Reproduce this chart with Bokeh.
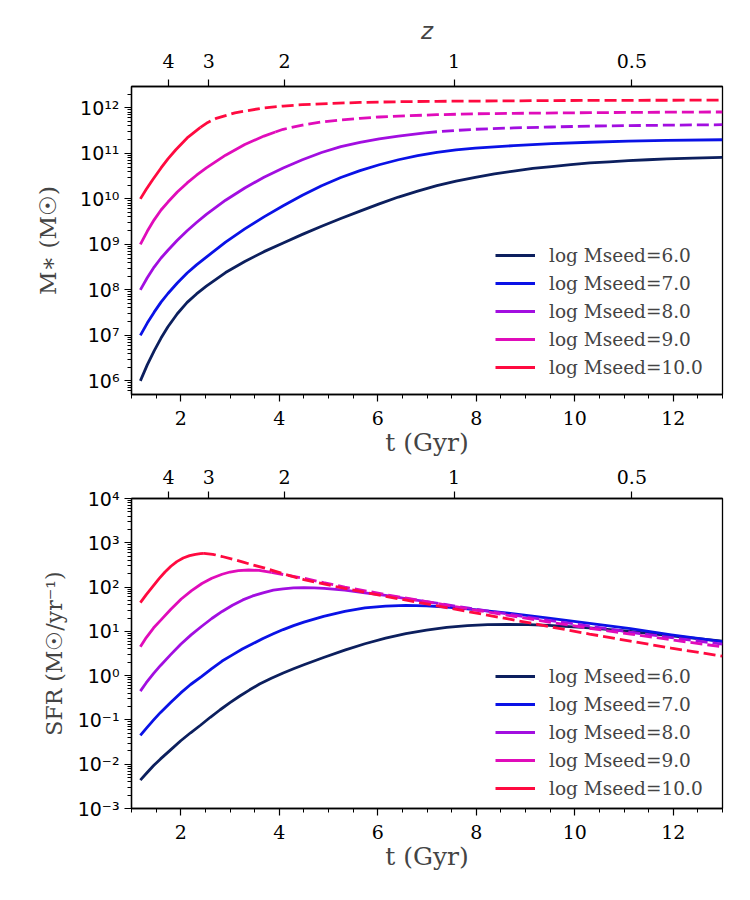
import numpy as np
from bokeh.plotting import figure
from bokeh.layouts import column
from bokeh.models import (Range1d, LinearAxis, FixedTicker, SingleIntervalTicker,
                          CustomJSTickFormatter, Legend, LegendItem)
from bokeh.embed import file_html
from bokeh.resources import INLINE

# ---------------- data ----------------
labels = ["log Mseed=6.0", "log Mseed=7.0", "log Mseed=8.0", "log Mseed=9.0", "log Mseed=10.0"]
colors = ["#0c1f5e", "#0a12e6", "#a20ee0", "#e00cba", "#ff0a40"]

# redshift ticks on the top axis (position in t, label)
z_tick_t = [1.75, 2.57, 4.11, 7.55, 11.16]
z_tick_lab = ["4", "3", "2", "1", "0.5"]

# stellar mass, log10(M*/Msun)
m6_t = [1.18, 1.32, 1.46, 1.60, 1.74, 1.93, 2.13, 2.32, 2.52, 2.91, 3.30, 3.69, 4.08, 4.47, 4.86, 5.25, 5.64, 6.03, 6.42, 6.81, 7.20, 7.59, 7.98, 8.37, 8.76, 9.15, 9.53, 9.92, 10.31, 10.70, 11.09, 11.48, 11.87, 12.40, 13.0]
m6_v = [6.00, 6.35, 6.66, 6.94, 7.19, 7.475, 7.725, 7.91, 8.08, 8.38, 8.625, 8.84, 9.03, 9.22, 9.40, 9.57, 9.73, 9.89, 10.04, 10.17, 10.29, 10.39, 10.47, 10.55, 10.61, 10.67, 10.71, 10.755, 10.79, 10.815, 10.84, 10.86, 10.88, 10.895, 10.91]
m7_t = [1.18, 1.32, 1.46, 1.60, 1.74, 1.93, 2.13, 2.32, 2.52, 2.91, 3.30, 3.69, 4.08, 4.47, 4.86, 5.25, 5.64, 6.03, 6.42, 6.81, 7.20, 7.59, 7.98, 8.37, 8.76, 9.53, 10.31, 11.09, 11.87, 13.0]
m7_v = [7.00, 7.27, 7.51, 7.73, 7.92, 8.15, 8.37, 8.55, 8.72, 9.05, 9.34, 9.605, 9.85, 10.08, 10.29, 10.47, 10.62, 10.75, 10.86, 10.95, 11.02, 11.075, 11.115, 11.145, 11.17, 11.215, 11.245, 11.268, 11.285, 11.30]
m8_t = [1.18, 1.32, 1.46, 1.60, 1.74, 1.93, 2.13, 2.32, 2.52, 2.91, 3.30, 3.69, 4.08, 4.47, 4.86, 5.25, 5.64, 6.03, 6.42, 6.96, 7.20, 7.59, 7.98, 8.76, 9.53, 10.31, 11.09, 11.87, 13.0]
m8_v = [8.00, 8.265, 8.50, 8.70, 8.87, 9.09, 9.30, 9.48, 9.66, 9.97, 10.24, 10.475, 10.68, 10.86, 11.02, 11.15, 11.24, 11.32, 11.38, 11.45, 11.475, 11.505, 11.53, 11.56, 11.58, 11.60, 11.61, 11.62, 11.63]
m9_t = [1.18, 1.32, 1.46, 1.60, 1.74, 1.93, 2.13, 2.32, 2.52, 2.91, 3.30, 3.69, 3.92, 4.08, 4.47, 4.86, 5.25, 5.64, 6.03, 6.42, 7.20, 7.98, 8.76, 10.31, 11.87, 13.0]
m9_v = [9.00, 9.287, 9.539, 9.756, 9.93, 10.15, 10.35, 10.52, 10.68, 10.96, 11.195, 11.38, 11.47, 11.53, 11.62, 11.69, 11.735, 11.77, 11.80, 11.82, 11.85, 11.87, 11.88, 11.895, 11.905, 11.91]
m10_t = [1.18, 1.30, 1.43, 1.60, 1.74, 1.90, 2.13, 2.40, 2.55, 2.72, 2.91, 3.10, 3.30, 3.69, 4.08, 4.47, 4.86, 5.64, 6.42, 7.20, 8.76, 10.31, 13.0]
m10_v = [10.00, 10.21, 10.42, 10.68, 10.88, 11.08, 11.34, 11.57, 11.68, 11.77, 11.83, 11.89, 11.93, 12.00, 12.04, 12.07, 12.09, 12.12, 12.135, 12.145, 12.155, 12.165, 12.17]

# star formation rate, log10(SFR / Msun yr^-1)
s6_t = [1.18, 1.30, 1.45, 1.59, 1.80, 2.00, 2.20, 2.40, 2.60, 2.80, 3.00, 3.20, 3.40, 3.60, 3.84, 4.08, 4.29, 4.50, 4.90, 5.33, 5.74, 6.16, 6.57, 6.99, 7.40, 7.82, 8.23, 8.65, 9.06, 9.47, 10.30, 11.13, 11.96, 13.0]
s6_v = [-2.36, -2.21, -2.03, -1.88, -1.67, -1.47, -1.29, -1.12, -0.94, -0.77, -0.61, -0.46, -0.32, -0.19, -0.06, 0.06, 0.155, 0.245, 0.41, 0.575, 0.72, 0.845, 0.95, 1.03, 1.09, 1.13, 1.15, 1.155, 1.15, 1.135, 1.08, 1.00, 0.90, 0.78]
s7_t = [1.18, 1.30, 1.45, 1.59, 1.80, 2.00, 2.20, 2.42, 2.63, 2.84, 3.05, 3.25, 3.46, 3.67, 3.88, 4.08, 4.29, 4.50, 4.90, 5.33, 5.74, 6.16, 6.57, 6.99, 7.40, 7.82, 8.65, 9.47, 10.30, 11.13, 11.96, 13.0]
s7_v = [-1.35, -1.19, -1.00, -0.83, -0.60, -0.39, -0.20, -0.02, 0.16, 0.33, 0.47, 0.60, 0.72, 0.84, 0.945, 1.04, 1.13, 1.21, 1.34, 1.45, 1.53, 1.57, 1.585, 1.575, 1.55, 1.51, 1.41, 1.30, 1.18, 1.06, 0.92, 0.77]
s8_t = [1.18, 1.30, 1.45, 1.59, 1.80, 2.00, 2.21, 2.42, 2.63, 2.84, 3.05, 3.26, 3.46, 3.67, 3.88, 4.08, 4.29, 4.50, 4.71, 4.91, 5.33, 5.74, 6.16, 6.57, 6.99, 7.82, 8.65, 9.47, 10.30, 11.13, 11.96, 13.0]
s8_v = [-0.35, -0.16, 0.05, 0.23, 0.48, 0.71, 0.92, 1.11, 1.29, 1.45, 1.59, 1.71, 1.80, 1.87, 1.93, 1.96, 1.98, 1.985, 1.98, 1.97, 1.93, 1.87, 1.81, 1.74, 1.67, 1.53, 1.39, 1.25, 1.12, 0.98, 0.86, 0.71]
s9_t = [1.18, 1.30, 1.45, 1.60, 1.80, 2.01, 2.22, 2.43, 2.63, 2.84, 3.00, 3.17, 3.38, 3.59, 3.84, 4.10, 4.50, 4.90, 5.33, 6.16, 6.99, 7.82, 8.65, 9.47, 10.30, 11.13, 11.96, 13.0]
s9_v = [0.65, 0.86, 1.08, 1.26, 1.50, 1.73, 1.92, 2.08, 2.20, 2.29, 2.34, 2.37, 2.385, 2.375, 2.33, 2.28, 2.20, 2.10, 2.00, 1.83, 1.67, 1.51, 1.36, 1.21, 1.07, 0.94, 0.81, 0.65]
s10_t = [1.18, 1.30, 1.43, 1.56, 1.68, 1.80, 1.92, 2.05, 2.18, 2.30, 2.40, 2.47, 2.65, 2.84, 3.05, 3.25, 3.46, 3.67, 4.08, 4.50, 4.90, 5.33, 6.16, 6.99, 7.82, 8.65, 9.47, 10.30, 11.13, 11.96, 13.0]
s10_v = [1.65, 1.83, 2.01, 2.19, 2.34, 2.47, 2.575, 2.655, 2.71, 2.74, 2.755, 2.76, 2.74, 2.69, 2.63, 2.57, 2.50, 2.44, 2.30, 2.17, 2.07, 1.97, 1.79, 1.62, 1.45, 1.28, 1.11, 0.94, 0.78, 0.62, 0.44]

# time after which each curve is drawn dashed
mass_solid_until = [13.0, 13.0, 6.96, 3.92, 2.40]
sfr_solid_until = [13.0, 13.0, 6.99, 3.84, 2.47]

mass_series = [(m6_t, m6_v), (m7_t, m7_v), (m8_t, m8_v), (m9_t, m9_v), (m10_t, m10_v)]
sfr_series = [(s6_t, s6_v), (s7_t, s7_v), (s8_t, s8_v), (s9_t, s9_v), (s10_t, s10_v)]

# ---------------- styling ----------------
SERIF = "DejaVu Serif"
SANS = "DejaVu Sans"
LW = 2.8
DASH = "12 5"

sup_js = """
const m = {'-':'\u207b','0':'\u2070','1':'\u00b9','2':'\u00b2','3':'\u00b3','4':'\u2074','5':'\u2075','6':'\u2076','7':'\u2077','8':'\u2078','9':'\u2079'};
const e = Math.round(Math.log10(tick));
return '10' + String(e).split('').map(c => m[c]).join('');
"""

z_js = """
let best = 0, d = 1e9;
for (let i = 0; i < pos.length; i++) { const dd = Math.abs(pos[i] - tick); if (dd < d) { d = dd; best = i; } }
return labs[best];
"""


def make_panel(series, split, ylo, yhi, yticks, ylabel, ylabel_size, ylabel_standoff,
               height, top_border, bottom_border, zlabel, z_standoff, x_standoff, legend_bottom):
    p = figure(width=750, height=height, output_backend="svg", toolbar_location=None,
               x_range=Range1d(1, 13), y_range=Range1d(ylo, yhi), y_axis_type="log",
               min_border_left=131, min_border_right=28, min_border_top=top_border,
               min_border_bottom=bottom_border)
    p.grid.visible = False
    p.outline_line_color = "black"
    p.outline_line_width = 1.3
    p.background_fill_color = "white"
    p.border_fill_color = "white"

    items = []
    for (tt, vv), c, lab, s in zip(series, colors, labels, split):
        tt = np.array(tt)
        vals = 10.0 ** np.array(vv)
        m1 = tt <= s + 1e-9
        r = p.line(tt[m1], vals[m1], line_color=c, line_width=LW, line_join="round")
        m2 = tt >= s - 1e-9
        if m2.sum() > 1:
            p.line(tt[m2], vals[m2], line_color=c, line_width=LW, line_dash=DASH)
        items.append(LegendItem(label=lab, renderers=[r]))

    # axes
    xa = p.xaxis[0]
    xa.ticker = SingleIntervalTicker(interval=2, num_minor_ticks=4)
    xa.axis_label = "t (Gyr)"
    ya = p.yaxis[0]
    e0 = int(np.floor(np.log10(ylo)))
    e1 = int(np.ceil(np.log10(yhi)))
    ya.ticker = FixedTicker(ticks=yticks,
                            minor_ticks=[k * 10.0 ** e for e in range(e0, e1 + 1) for k in range(2, 10)])
    ya.formatter = CustomJSTickFormatter(code=sup_js)
    ya.axis_label = ylabel

    za = LinearAxis(ticker=FixedTicker(ticks=z_tick_t),
                    formatter=CustomJSTickFormatter(args=dict(pos=z_tick_t, labs=z_tick_lab), code=z_js))
    if zlabel:
        za.axis_label = "z"
        za.axis_label_text_font = SANS
        za.axis_label_text_font_style = "italic"
        za.axis_label_text_font_size = "23px"
        za.axis_label_standoff = 7
    p.add_layout(za, "above")

    for ax in (xa, ya, za):
        ax.axis_line_width = 1.3
        ax.major_tick_line_width = 1.2
        ax.minor_tick_line_width = 1.0
        ax.major_tick_out = 7
        ax.major_tick_in = 0
        ax.minor_tick_out = 4
        ax.minor_tick_in = 0
        ax.major_label_text_font_size = "19px"
        ax.major_label_text_color = "black"
        ax.major_label_standoff = 5
    za.major_label_standoff = z_standoff
    xa.major_label_standoff = x_standoff
    xa.axis_label_text_font = SERIF
    xa.axis_label_text_font_style = "normal"
    xa.axis_label_text_font_size = "25px"
    xa.axis_label_standoff = 0
    ya.axis_label_text_font = SERIF
    ya.axis_label_text_font_style = "normal"
    ya.axis_label_text_font_size = ylabel_size
    ya.axis_label_standoff = ylabel_standoff
    xa.major_label_text_font = SERIF
    za.major_label_text_font = SERIF
    ya.major_label_text_font = SANS

    leg = Legend(items=items, location=(364, legend_bottom), padding=0, margin=0, spacing=4,
                 glyph_width=40, glyph_height=24, label_height=24, label_standoff=14,
                 label_text_font=SERIF, label_text_font_size="18.5px",
                 border_line_alpha=0, background_fill_alpha=0)
    p.add_layout(leg)
    return p


p1 = make_panel(mass_series, mass_solid_until, 10 ** 5.70, 10 ** 12.47,
                [10.0 ** e for e in range(6, 13)], "M\u2217 (M\u2609)", "23px", 16,
                height=461, top_border=86, bottom_border=67, zlabel=True, z_standoff=12,
                x_standoff=9, legend_bottom=15)
p2 = make_panel(sfr_series, sfr_solid_until, 1e-3, 1e4,
                [10.0 ** e for e in range(-3, 5)], "SFR (M\u2609/yr\u207b\u00b9)", "22px", 8,
                height=439, top_border=37, bottom_border=92, zlabel=False, z_standoff=8,
                x_standoff=9, legend_bottom=8)

layout = column(p1, p2, spacing=0)
open("out.html", "w").write(file_html(layout, INLINE))
